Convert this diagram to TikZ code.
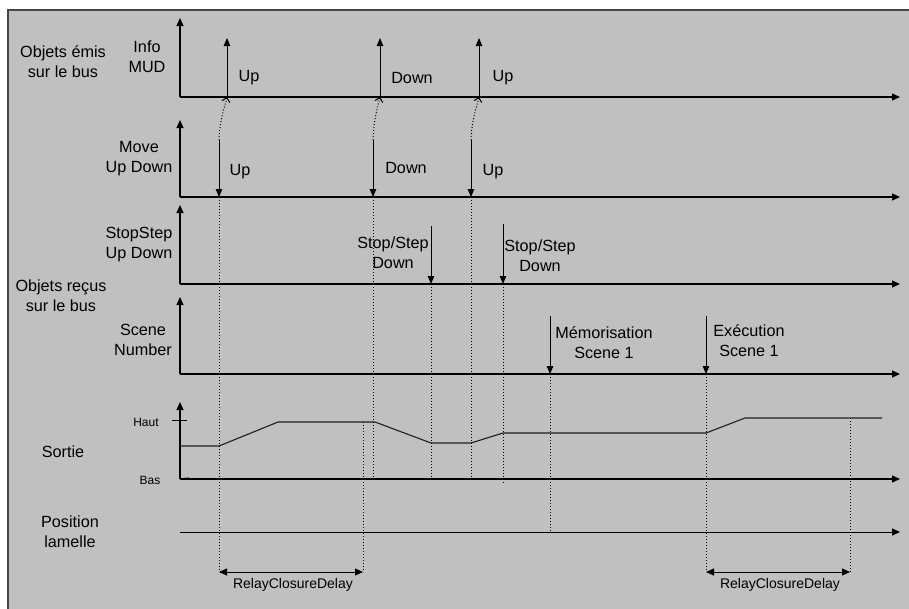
\documentclass[tikz,border=0pt]{standalone}
\usepackage{fontspec}
\setmainfont{Liberation Sans}
\usepackage{tikz}
\usetikzlibrary{arrows.meta, positioning, calc}
\definecolor{mybg}{RGB}{192,192,192}
\definecolor{myframe}{RGB}{70,70,70}
\definecolor{mydark}{RGB}{0,0,0}
\definecolor{mysig}{RGB}{30,30,30}
\tikzset{
  frame/.style={draw=myframe, fill=mybg, line width=1.6pt},
  axis/.style={-{Triangle[length=8pt, width=7pt]}, line width=1.1pt, color=mydark},
  evt/.style={-{Triangle[length=8pt, width=6.5pt]}, line width=0.9pt, color=mydark},
  guide/.style={dotted, line width=1pt, color=mydark},
  link/.style={dotted, line width=1pt, -{Straight Barb[length=4pt, width=8pt]}},
  sig/.style={line width=1.1pt, color=mysig},
  dim/.style={{Triangle[length=8pt, width=7pt]}-{Triangle[length=8pt, width=7pt]}, line width=0.9pt},
  lbl/.style={font=\fontsize{16.2}{20}\selectfont, align=center, inner sep=0pt},
  smalllbl/.style={font=\fontsize{14}{16}\selectfont, inner sep=0pt},
  tinylbl/.style={font=\fontsize{12}{14}\selectfont, inner sep=0pt}
}

\begin{document}
\begin{tikzpicture}[x=1pt, y=-1pt]
  \useasboundingbox (0,0) rectangle (909,608);
  \draw[frame] (8,10) rectangle (925,625);

  % axes
  \foreach \n/\y/\t in {mud/97/18, move/197/120, stop/284/205, scene/374/297, out/479/402} {
    \coordinate (\n0) at (180,\y);
    \coordinate (\n top) at (180,\t);
    \coordinate (\n end) at (900,\y);
    \draw[axis] (\n0) -- (\n top);
    \draw[axis] (\n0) -- (\n end);
  }
  \coordinate (lam0) at (180,532);
  \coordinate (lam end) at (900,532);
  \draw[axis, line width=0.9pt] (lam0) -- (lam end);

  % Haut / Bas ticks
  \coordinate (haut l) at (172,420);
  \coordinate (haut r) at (187,420);
  \coordinate (bas r) at (189,478);
  \draw[line width=0.9pt] (haut l) -- (haut r);
  \draw[line width=1.1pt] (out0) -- (bas r);

  % row labels
  \node[lbl] (emis) at (63,62) {Objets émis\\sur le bus};
  \node[lbl] (mudlbl) at (147,57) {Info\\MUD};
  \node[lbl] (movelbl) at (139,159) {Move\\Up Down};
  \node[lbl] (stoplbl) at (139,245) {StopStep\\Up Down};
  \node[lbl] (recus) at (61,296) {Objets reçus\\sur le bus};
  \node[lbl] (scenelbl) at (143,340) {Scene\\Number};
  \node[lbl] (sortie) at (63,452) {Sortie};
  \node[lbl] (lamelle) at (70,532) {Position\\lamelle};
  \node[tinylbl] (haut) at (146,422) {Haut};
  \node[tinylbl] (bas) at (150,480) {Bas};

  % Info MUD (emitted) and Move Up Down (received)
  \foreach \n/\xs/\xr/\t/\ls/\lr/\yr in {u1/227/219/Up/249/240/172, d1/380/373/Down/412/406/168, u2/479/471/Up/503/493/172} {
    \coordinate (\n s0) at (\xs,97);
    \coordinate (\n s1) at (\xs,38);
    \coordinate (\n r0) at (\xr,140);
    \coordinate (\n r1) at (\xr,197);
    \draw[evt] (\n s0) -- (\n s1);
    \draw[evt] (\n r0) -- (\n r1);
    \draw[link] (\n r0) .. controls ($(\n r0)+(0.5,-18)$) and ($(\n s0)+(-3,12)$) .. (\n s0);
    \node[lbl] at (\ls,78) {\t};
    \node[lbl] at (\lr,\yr) {\t};
  }

  % Stop/Step Down
  \coordinate (st1a) at (431,226);
  \coordinate (st1b) at (431,284);
  \coordinate (st2a) at (503,224);
  \coordinate (st2b) at (503,284);
  \draw[evt] (st1a) -- (st1b);
  \draw[evt] (st2a) -- (st2b);
  \node[lbl] (st1lbl) at (393,253) {Stop/Step\\Down};
  \node[lbl] (st2lbl) at (540,256) {Stop/Step\\Down};

  % scenes
  \coordinate (memo a) at (550,316);
  \coordinate (memo b) at (550,374);
  \coordinate (exec a) at (706,316);
  \coordinate (exec b) at (706,374);
  \draw[evt] (memo a) -- (memo b);
  \draw[evt] (exec a) -- (exec b);
  \node[lbl] (memolbl) at (604,343) {Mémorisation\\Scene 1};
  \node[lbl] (execlbl) at (749,341) {Exécution\\Scene 1};

  % output
  \draw[sig] (180,446) -- (219,446) -- (278,422) -- (375,422) -- (431,443)
    -- (471,443) -- (503,433) -- (706,433) -- (745,418) -- (882,418);

  % guides
  \coordinate (rc1a) at (219,572);
  \coordinate (rc1b) at (363,572);
  \coordinate (rc2a) at (706,572);
  \coordinate (rc2b) at (850,572);
  \draw[guide] (u1r1) -- (rc1a);
  \draw[guide] (363,422) -- (rc1b);
  \draw[guide] (d1r1) -- (373,479);
  \draw[guide] (st1b) -- (431,479);
  \draw[guide] (u2r1) -- (471,479);
  \draw[guide] (st2b) -- (503,483);
  \draw[guide] (memo b) -- (550,532);
  \draw[guide] (exec b) -- (rc2a);
  \draw[guide] (850,418) -- (rc2b);

  % delays
  \draw[dim] (rc1a) -- (rc1b);
  \draw[dim] (rc2a) -- (rc2b);
  \node[smalllbl] (rc1lbl) at (293,585) {RelayClosureDelay};
  \node[smalllbl] (rc2lbl) at (780,585) {RelayClosureDelay};
\end{tikzpicture}
\end{document}
